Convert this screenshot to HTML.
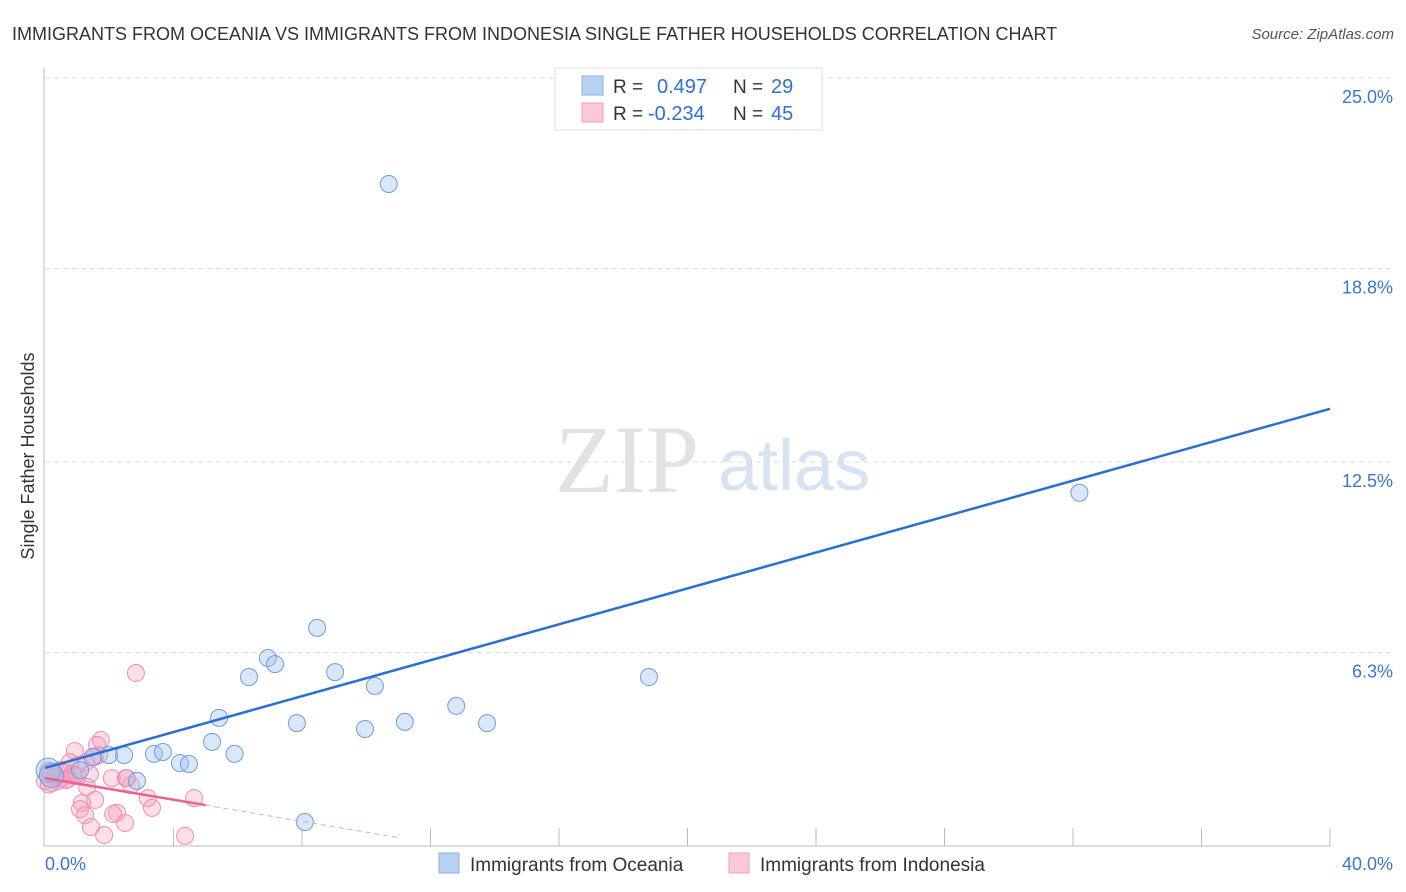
<!DOCTYPE html>
<html><head><meta charset="utf-8"><style>
body{margin:0;background:#fff;font-family:"Liberation Sans",sans-serif;}
svg{display:block}
</style></head><body>
<svg id="chart" width="1406" height="892" xmlns="http://www.w3.org/2000/svg">
<text x="12" y="40" font-size="18" fill="#333">IMMIGRANTS FROM OCEANIA VS IMMIGRANTS FROM INDONESIA SINGLE FATHER HOUSEHOLDS CORRELATION CHART</text>
<text x="1394" y="39" font-size="15" fill="#555" font-style="italic" text-anchor="end">Source: ZipAtlas.com</text>
<text x="555" y="492" font-size="96" fill="#e2e2e2" font-family="Liberation Serif,serif">ZIP</text>
<text x="718" y="490" font-size="72" fill="#d5e3f5">atlas</text>
<text transform="translate(34,456) rotate(-90)" font-size="18" fill="#333" text-anchor="middle">Single Father Households</text>
<g id="grid"></g><g id="marks"></g>
<g>
<rect x="555" y="68" width="267" height="62" fill="#fff" stroke="#ddd"/>
<rect x="582" y="76" width="21" height="19" fill="#b8d2f4" stroke="#8ab0e6"/>
<rect x="582" y="103" width="21" height="19" fill="#fbc8d8" stroke="#f0a0bb"/>
<text x="613" y="93" font-size="19" fill="#333">R =</text><text x="657" y="93" font-size="20" fill="#2f6fd6">0.497</text>
<text x="733" y="93" font-size="19" fill="#333">N =</text><text x="771" y="93" font-size="20" fill="#2f6fd6">29</text>
<text x="613" y="120" font-size="19" fill="#333">R =</text><text x="648" y="120" font-size="20" fill="#2f6fd6">-0.234</text>
<text x="733" y="120" font-size="19" fill="#333">N =</text><text x="771" y="120" font-size="20" fill="#2f6fd6">45</text>
</g>
<g>
<rect x="439" y="853" width="20" height="20" fill="#b8d2f4" stroke="#8ab0e6"/>
<text x="470" y="871" font-size="19" fill="#333">Immigrants from Oceania</text>
<rect x="729" y="853" width="20" height="20" fill="#fbc8d8" stroke="#f0a0bb"/>
<text x="760" y="871" font-size="19" fill="#333">Immigrants from Indonesia</text>
</g>
</svg>
<script>
const yTicks=[25.0,18.8,12.5,6.3];
const yTickLabels=["25.0%","18.8%","12.5%","6.3%"];
const xTickLabels=["0.0%","40.0%"];
const oceaniaX=[10.7,32.2,18.8,8.47,6.94,7.16,6.35,9.03,10.27,12.8,5.42,7.84,9.96,11.2,13.76,5.2,5.9,3.39,3.67,4.2,4.48,2.46,1.99,1.49,2.86,8.09,0.1,0.2,1.09];
const oceaniaY=[21.55,11.5,5.5,7.1,6.12,5.92,5.5,5.66,5.21,4.56,4.17,4.0,3.81,4.04,4.0,3.39,3.0,3.0,3.06,2.7,2.67,2.96,2.96,2.9,2.12,0.78,2.47,2.3,2.47];
const indoX=[2.83,1.74,1.62,0.93,1.68,1.55,0.78,1.03,1.28,0.47,0.31,0.62,0.16,0.40,0.72,0.0,0.22,0.1,1.4,2.08,2.52,1.31,2.68,2.55,3.2,3.33,1.56,1.15,1.09,1.25,2.24,2.12,2.49,1.43,4.64,4.36,1.84,0.5,0.9,0.3,0.65,0.2,0.85,1.0,0.12];
const indoY=[5.63,3.45,3.29,3.09,2.96,2.9,2.73,2.64,2.73,2.47,2.31,2.38,2.34,2.11,2.18,2.11,2.05,2.47,2.34,2.21,2.21,1.92,1.98,2.21,1.56,1.24,1.5,1.4,1.2,1.0,1.08,1.04,0.75,0.62,1.56,0.33,0.36,2.2,2.3,2.25,2.15,2.4,2.35,2.28,2.0];
const oceaniaFit=[2.54,14.23];
const indoFit=[2.21,-0.176];
const X=v=>45+v*32.125, Y=v=>846-v*30.72;
const NS="http://www.w3.org/2000/svg";
const grid=document.getElementById('grid'), marks=document.getElementById('marks');
function mk(tag,attrs,parent){const e=document.createElementNS(NS,tag);for(const k in attrs)e.setAttribute(k,attrs[k]);parent.appendChild(e);return e;}
yTicks.forEach((t,i)=>{
 const l=mk('line',{x1:45,x2:1392,y1:Y(t),y2:Y(t),stroke:'#ddd','stroke-dasharray':'5,4'},grid);
 
 
 const tx=mk('text',{x:1393,y:Y(t)+25,'font-size':18,fill:'#3a75d6','text-anchor':'end'},grid);tx.textContent=yTickLabels[i];
 
 
});
mk('line',{x1:44,x2:44,y1:68,y2:846,stroke:'#bbb'},grid);
mk('line',{x1:44,x2:1330,y1:846,y2:846,stroke:'#bbb'},grid);
for(let k=1;k<=10;k++){const x=X(k*4);const t=mk('line',{x1:x,x2:x,y1:828,y2:846,stroke:'#bbb'},grid);
 
 }
const xl0=mk('text',{x:45,y:870,'font-size':18,fill:'#3a75d6'},grid);xl0.textContent=xTickLabels[0];


const xl1=mk('text',{x:1393,y:870,'font-size':18,fill:'#3a75d6','text-anchor':'end'},grid);xl1.textContent=xTickLabels[1];


indoX.forEach((x,i)=>{const c=mk('circle',{cx:X(x),cy:Y(indoY[i]),r:8.5,fill:'rgba(244,160,190,0.35)',stroke:'#f08fb0','stroke-width':1},marks);
 
 });
oceaniaX.forEach((x,i)=>{const c=mk('circle',{cx:X(x),cy:Y(oceaniaY[i]),r:(i>=26&&i<=27)?12:8.5,fill:'rgba(160,196,240,0.4)',stroke:'#6c9ee0','stroke-width':1},marks);
 
 });
const bl=mk('line',{x1:X(0),y1:Y(oceaniaFit[0]),x2:X(40),y2:Y(oceaniaFit[1]),stroke:'#2a6fd6','stroke-width':2.5},marks);


const pl=mk('line',{x1:X(0),y1:Y(indoFit[0]),x2:X(5),y2:Y(indoFit[0]+indoFit[1]*5),stroke:'#e8638f','stroke-width':2.5},marks);


const pd=mk('line',{x1:X(5),y1:Y(indoFit[0]+indoFit[1]*5),x2:X(11),y2:Y(indoFit[0]+indoFit[1]*11),stroke:'#f0a0bb','stroke-width':1,'stroke-dasharray':'5,4'},marks);


</script>
</body></html>
